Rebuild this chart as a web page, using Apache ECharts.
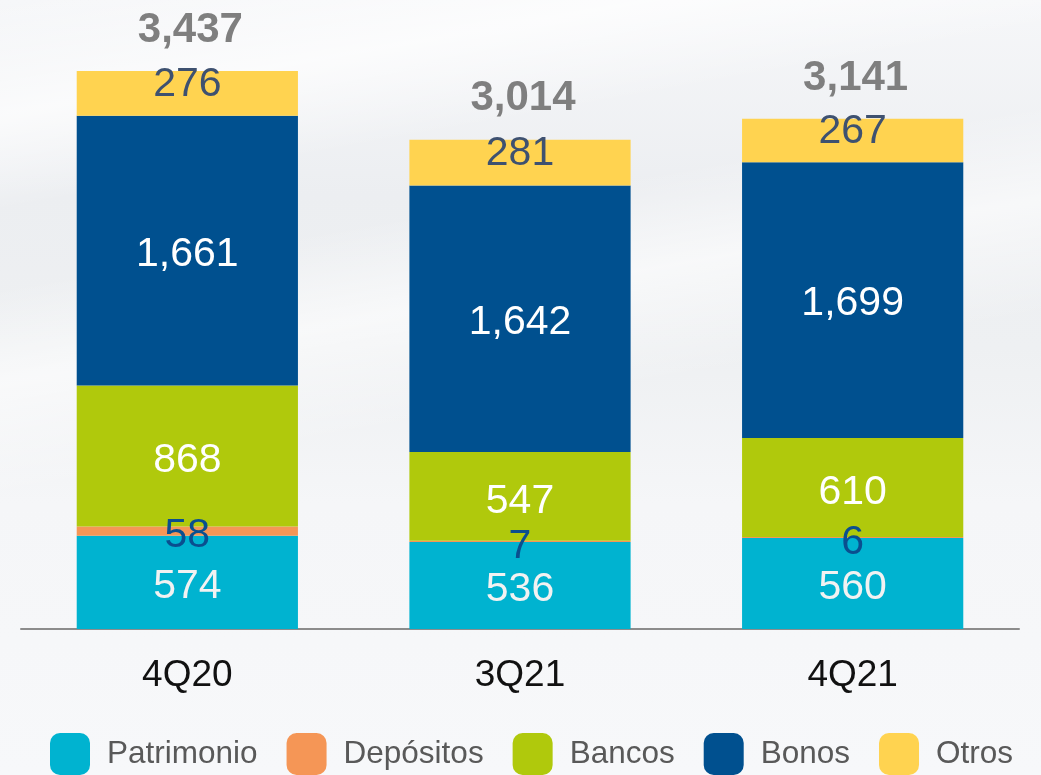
<!DOCTYPE html>
<html>
<head>
<meta charset="utf-8">
<script src="https://cdn.jsdelivr.net/npm/echarts@6/dist/echarts.min.js"></script>
<style>
html,body{margin:0;padding:0;}
body{width:1041px;height:775px;overflow:hidden;
background:
 linear-gradient(170deg, rgba(255,255,255,0) 0%, rgba(255,255,255,0.7) 12%, rgba(255,255,255,0) 22%, rgba(255,255,255,0) 30%, rgba(255,255,255,0.6) 40%, rgba(255,255,255,0) 52%),
 linear-gradient(180deg, #f6f7f9 0%, #eceef1 25%, #eef0f2 45%, #f5f6f8 65%, #f7f8fa 100%);}
#c{width:1041px;height:775px;}
</style>
</head>
<body>
<div id="c"></div>
<script>
var categories = ['4Q20', '3Q21', '4Q21'];
var patrimonio = [574, 536, 560];
var depositos = [58, 7, 6];
var bancos = [868, 547, 610];
var bonos = [1661, 1642, 1699];
var otros = [276, 281, 267];
var totales = [3437, 3014, 3141];

var fmt = function (p) { return Number(p.value).toLocaleString('en-US'); };
var font = 'Liberation Sans, Arial, sans-serif';
var bw = '66.5%';

function seg(name, data, color, labelColor, dy) {
  return {
    name: name, type: 'bar', stack: 'total', data: data, barWidth: bw,
    itemStyle: { color: color },
    label: { show: true, position: 'inside', offset: [0, dy], color: labelColor, fontSize: 41, fontFamily: font, formatter: fmt },
    silent: true
  };
}

var chart = echarts.init(document.getElementById('c'), null, { renderer: 'canvas' });
chart.setOption({
  backgroundColor: 'transparent',
  animation: false,
  grid: { left: 21, right: 22, top: 12, bottom: 146, containLabel: false },
  xAxis: {
    type: 'category', data: categories,
    axisLine: { show: true, lineStyle: { color: '#8c8c8c', width: 2 } },
    axisTick: { show: false },
    axisLabel: { color: '#111', fontSize: 37, fontFamily: font, margin: 28 }
  },
  yAxis: { type: 'value', min: 0, max: 3800, show: false, splitLine: { show: false } },
  legend: {
    data: ['Patrimonio', 'Depósitos', 'Bancos', 'Bonos', 'Otros'],
    left: 50, top: 733, padding: 0, itemWidth: 40, itemHeight: 42, itemGap: 29,
    icon: 'roundRect',
    selectedMode: false,
    textStyle: { color: '#595959', fontSize: 31.5, fontFamily: font, padding: [6, 0, 0, 12] }
  },
  series: [
    seg('Patrimonio', patrimonio, '#00b3d0', '#f2f2f2', 4),
    seg('Depósitos', depositos, '#f59656', '#0a4f8f', 5),
    seg('Bancos', bancos, '#b0c90c', '#ffffff', 5),
    seg('Bonos', bonos, '#00508f', '#ffffff', 4),
    seg('Otros', otros, '#ffd350', '#3e5170', -9),
    {
      name: 'Total', type: 'bar', data: totales, barWidth: bw, barGap: '-100%',
      itemStyle: { color: 'rgba(0,0,0,0)' }, silent: true, z: 0,
      label: { show: true, position: 'top', distance: 20, offset: [3, 0], color: '#7f7f7f', fontSize: 42, fontWeight: 'bold', fontFamily: font, formatter: fmt }
    }
  ]
});
</script>
</body>
</html>
